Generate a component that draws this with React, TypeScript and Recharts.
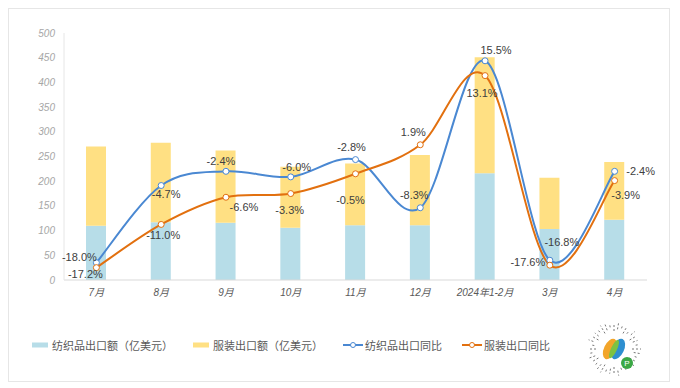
import { Bar, ComposedChart, LabelList, Legend, Line, XAxis, YAxis } from "recharts"

const months = ["7月", "8月", "9月", "10月", "11月", "12月", "2024年1-2月", "3月", "4月"]
const textileExport = [110, 117, 116, 106, 111, 111, 216, 103, 122]
const apparelExport = [160, 161, 146, 123, 125, 142, 235, 104, 117]
const textileYoy = [-17.2, -4.7, -2.4, -3.3, -0.5, -8.3, 15.5, -16.8, -2.4]
const apparelYoy = [-18.0, -11.0, -6.6, -6.0, -2.8, 1.9, 13.1, -17.6, -3.9]
const textileYoyLabels = ["-18.0%", "-4.7%", "-2.4%", "-6.0%", "-2.8%", "-8.3%", "15.5%", "-16.8%", "-2.4%"]
const apparelYoyLabels = ["-17.2%", "-11.0%", "-6.6%", "-3.3%", "-0.5%", "1.9%", "13.1%", "-17.6%", "-3.9%"]
const leftTicks = [0, 50, 100, 150, 200, 250, 300, 350, 400, 450, 500]

const data = months.map((month, i) => ({
  month,
  textile: textileExport[i],
  apparel: apparelExport[i],
  textileYoy: textileYoy[i],
  apparelYoy: apparelYoy[i],
}))

// label placement around each point (dx, dy of the text centre)
const textileLabelOffsets = [[-17, -6], [5, 8], [-5, -10], [6, -10], [-4, -13], [-6, -13], [11, -11], [12, -18], [26, 0]]
const apparelLabelOffsets = [[-11, 6], [2, 11], [18, 10], [-1, 16], [-5, 26], [-7, -13], [-3, 17], [-22, -3], [11, 14]]

const BLUE = "#4a88d2"
const ORANGE = "#e2700f"
const BAR_BLUE = "#b7dde8"
const BAR_YELLOW = "#ffe083"
const FONT = "'Liberation Sans', 'Noto Sans CJK SC', sans-serif"

// excel-like smoothing: bezier with catmull-rom control points
const smoothCurve: any = (context: any) => {
  let pts: number[][] = []
  return {
    areaStart() {},
    areaEnd() {},
    lineStart() {
      pts = []
    },
    point(x: number, y: number) {
      pts.push([+x, +y])
    },
    lineEnd() {
      if (!pts.length) return
      context.moveTo(pts[0][0], pts[0][1])
      for (let i = 0; i < pts.length - 1; i++) {
        const p0 = pts[i - 1] || pts[i]
        const p1 = pts[i]
        const p2 = pts[i + 1]
        const p3 = pts[i + 2] || p2
        context.bezierCurveTo(
          p1[0] + (p2[0] - p0[0]) / 6,
          p1[1] + (p2[1] - p0[1]) / 6,
          p2[0] - (p3[0] - p1[0]) / 6,
          p2[1] - (p3[1] - p1[1]) / 6,
          p2[0],
          p2[1]
        )
      }
    },
  }
}

const pointLabel = (labels: string[], offsets: number[][]) => (props: any) => {
  const { x, y, index } = props
  const [dx, dy] = offsets[index]
  return (
    <text
      x={x + dx}
      y={y + dy}
      textAnchor="middle"
      dominantBaseline="central"
      fontSize={11}
      fill="#404040"
      fontFamily={FONT}
    >
      {labels[index]}
    </text>
  )
}

const legendItems = [
  { name: "纺织品出口额（亿美元）", color: BAR_BLUE, kind: "bar" },
  { name: "服装出口额（亿美元）", color: BAR_YELLOW, kind: "bar" },
  { name: "纺织品出口同比", color: BLUE, kind: "line" },
  { name: "服装出口同比", color: ORANGE, kind: "line" },
]

function ChartLegend() {
  return (
    <div style={{ display: "flex", alignItems: "center", gap: 20, fontFamily: "'Noto Sans CJK SC', sans-serif", fontSize: 11, color: "#595959" }}>
      {legendItems.map((item) => (
        <div key={item.name} style={{ display: "flex", alignItems: "center" }}>
          {item.kind === "bar" ? (
            <svg width={16} height={8} style={{ marginRight: 4 }}>
              <rect x={0} y={1.5} width={16} height={5} fill={item.color} />
            </svg>
          ) : (
            <svg width={20} height={8} style={{ marginRight: 2 }}>
              <line x1={0} y1={4} x2={20} y2={4} stroke={item.color} strokeWidth={2} />
              <circle cx={10} cy={4} r={2.5} fill="#fff" stroke={item.color} strokeWidth={1} />
            </svg>
          )}
          <span>{item.name}</span>
        </div>
      ))}
    </div>
  )
}

function MiniCode() {
  const rays = Array.from({ length: 36 }, (_, i) => i)
  return (
    <svg width={62} height={62} style={{ position: "absolute", left: 574, top: 309 }}>
      {rays.map((i) => {
        const a = (i / 36) * Math.PI * 2
        const r1 = 18 + (i % 3) * 2
        const r2 = 27 - (i % 4)
        return (
          <line
            key={i}
            x1={31 + Math.cos(a) * r1}
            y1={31 + Math.sin(a) * r1}
            x2={31 + Math.cos(a) * r2}
            y2={31 + Math.sin(a) * r2}
            stroke="#777"
            strokeWidth={1}
            strokeDasharray="2 2"
          />
        )
      })}
      <circle cx={31} cy={31} r={15} fill="#fff" />
      <ellipse cx={27} cy={31} rx={6} ry={11} fill="#f2a52a" transform="rotate(25 27 31)" />
      <ellipse cx={35} cy={31} rx={6} ry={11} fill="#2e8fd0" transform="rotate(25 35 31)" />
      <ellipse cx={31} cy={31} rx={3} ry={10} fill="#7cc242" transform="rotate(25 31 31)" />
      <circle cx={44} cy={45} r={6} fill="#3aa845" />
      <text x={44} y={48} textAnchor="middle" fontSize={8} fill="#fff" fontFamily={FONT}>
        P
      </text>
    </svg>
  )
}

export default function App() {
  return (
    <div style={{ position: "relative", width: 660, height: 372, border: "1px solid #e6e6e6", background: "#fff" }}>
      <ComposedChart width={660} height={372} data={data} margin={{ top: 24, right: 22, left: 0, bottom: 71 }}>
        <XAxis
          dataKey="month"
          interval={0}
          tickLine={false}
          tickSize={0}
          tickMargin={9}
          height={30}
          axisLine={{ stroke: "#d9d9d9" }}
          tick={{ fontSize: 10, fill: "#595959", fontStyle: "italic", fontFamily: FONT }}
        />
        <YAxis
          yAxisId="amt"
          domain={[0, 500]}
          ticks={leftTicks}
          interval={0}
          width={55}
          tickLine={false}
          tickSize={0}
          tickMargin={9}
          axisLine={{ stroke: "#e6e6e6" }}
          tick={{ fontSize: 10, fill: "#a6a6a6", fontStyle: "italic", fontFamily: FONT }}
        />
        <YAxis yAxisId="pct" orientation="right" domain={[-20, 20]} hide />
        <Legend
          layout="horizontal"
          verticalAlign="middle"
          align="center"
          wrapperStyle={{ top: 328, left: 23 }}
          content={() => <ChartLegend />}
        />
        <Bar yAxisId="amt" dataKey="textile" stackId="a" fill={BAR_BLUE} barSize={20} isAnimationActive={false} />
        <Bar yAxisId="amt" dataKey="apparel" stackId="a" fill={BAR_YELLOW} barSize={20} isAnimationActive={false} />
        <Line
          yAxisId="pct"
          type={smoothCurve}
          dataKey="textileYoy"
          stroke={BLUE}
          strokeWidth={2}
          dot={{ r: 3, fill: "#fff", stroke: BLUE, strokeWidth: 1 }}
          isAnimationActive={false}
        >
          <LabelList dataKey="textileYoy" content={pointLabel(textileYoyLabels, textileLabelOffsets)} />
        </Line>
        <Line
          yAxisId="pct"
          type={smoothCurve}
          dataKey="apparelYoy"
          stroke={ORANGE}
          strokeWidth={2}
          dot={{ r: 3, fill: "#fff", stroke: ORANGE, strokeWidth: 1 }}
          isAnimationActive={false}
        >
          <LabelList dataKey="apparelYoy" content={pointLabel(apparelYoyLabels, apparelLabelOffsets)} />
        </Line>
      </ComposedChart>
      <MiniCode />
    </div>
  )
}
